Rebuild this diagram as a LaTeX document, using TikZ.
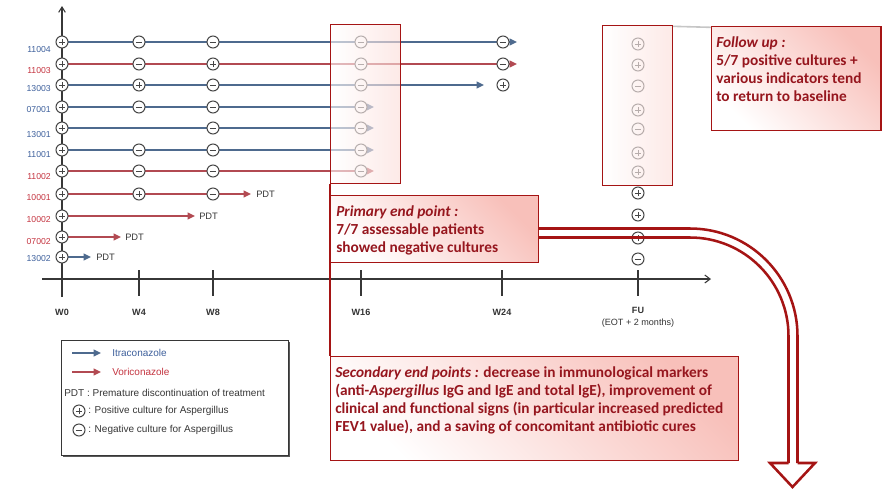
\documentclass[tikz,border=0pt]{standalone}
\usepackage{fontspec}
\setmainfont{Liberation Sans}
\newfontfamily\calfont{Carlito}
\usetikzlibrary{arrows.meta,shadows}
\definecolor{bline}{RGB}{78,106,142}
\definecolor{rline}{RGB}{178,74,82}
\definecolor{blab}{RGB}{62,96,156}
\definecolor{rlab}{RGB}{196,52,64}
\definecolor{dred}{RGB}{165,20,20}
\definecolor{tred}{RGB}{150,22,30}
\definecolor{bpink}{RGB}{248,192,186}
\definecolor{fpink}{RGB}{251,220,216}
\definecolor{mkgray}{RGB}{70,70,70}
\definecolor{axgray}{RGB}{55,55,55}
\pgfdeclarelayer{background}
\pgfsetlayers{background,main}
\tikzset{
  mk/.style={circle, draw=mkgray, fill=white, line width=0.75pt, minimum size=9pt, inner sep=0pt},
  plusmk/.style={mk, path picture={\draw[mkgray, line width=0.75pt] ([xshift=-2.4pt]path picture bounding box.center) -- ([xshift=2.4pt]path picture bounding box.center) ([yshift=-2.4pt]path picture bounding box.center) -- ([yshift=2.4pt]path picture bounding box.center);}},
  minusmk/.style={mk, path picture={\draw[mkgray, line width=0.75pt] ([xshift=-2.4pt]path picture bounding box.center) -- ([xshift=2.4pt]path picture bounding box.center);}},
  bl/.style={draw=bline, line width=1.6pt},
  rl/.style={draw=rline, line width=1.6pt},
  arrowend/.style={-{Triangle[length=5.5pt,width=5pt]}},
  axisline/.style={draw=axgray, line width=0.8pt},
  rowlab/.style={anchor=east, font=\fontsize{6.5}{7}\selectfont, inner sep=0pt},
  axlab/.style={font=\fontsize{6.8}{8}\selectfont\bfseries, text=black!80, inner sep=0pt},
  eotlab/.style={font=\fontsize{6.8}{8}\selectfont, text=black!80, inner sep=0pt},
  pdtlab/.style={anchor=west, font=\fontsize{7}{8}\selectfont, text=axgray, inner sep=0pt},
  legt/.style={anchor=west, font=\fontsize{7.5}{9}\selectfont, text=axgray, inner sep=0pt},
  fadebox/.style={draw=dred, line width=0.9pt, left color=white, right color=fpink, fill opacity=0.62, inner sep=0pt, anchor=north west},
  tbox/.style={draw=dred, line width=0.9pt, left color=white, right color=bpink, shading angle=135, inner sep=0pt, anchor=north west},
  boxtext/.style={font=\calfont\fontsize{11.5}{13.5}\selectfont\bfseries, text=tred, align=left, inner sep=0pt, anchor=north west},
  hollow/.style={draw=dred, line width=1.9pt},
}
\begin{document}
\begin{tikzpicture}[x=0.75pt,y=-0.75pt]
\useasboundingbox (0,0) rectangle (882,490);

% axes
\coordinate (vb) at (62,297);
\coordinate (vt) at (62,6);
\coordinate (hl) at (42,279);
\coordinate (hr) at (711,279);
\begin{pgfonlayer}{background}
\draw[axisline, -{Straight Barb[length=4pt,width=5pt]}] (vb) -- (vt);
\draw[axisline, -{Straight Barb[length=4pt,width=6pt]}] (hl) -- (hr);
\foreach \tx in {139,213,361,502,638} \draw[axisline] (\tx,270) -- (\tx,296);
\end{pgfonlayer}
\node[axlab] (w0) at (62,312) {W0};
\node[axlab] (w4) at (139,312) {W4};
\node[axlab] (w8) at (213,312) {W8};
\node[axlab] (w16) at (361,312) {W16};
\node[axlab] (w24) at (502,312) {W24};
\node[axlab] (fu) at (638,310) {FU};
\node[eotlab] (eot) at (638,323) {(EOT + 2 months)};

% row labels
\node[rowlab, text=blab] (l1) at (51,50) {11004};
\node[rowlab, text=rlab] (l2) at (51,71) {11003};
\node[rowlab, text=blab] (l3) at (51,89) {13003};
\node[rowlab, text=blab] (l4) at (51,110) {07001};
\node[rowlab, text=blab] (l5) at (51,135) {13001};
\node[rowlab, text=blab] (l6) at (51,155) {11001};
\node[rowlab, text=rlab] (l7) at (51,177) {11002};
\node[rowlab, text=rlab] (l8) at (51,198) {10001};
\node[rowlab, text=rlab] (l9) at (51,220) {10002};
\node[rowlab, text=rlab] (l10) at (51,242) {07002};
\node[rowlab, text=blab] (l11) at (51,259) {13002};

% row 1
\node[plusmk] (a1) at (62,42) {};
\node[minusmk] (b1) at (139,42) {};
\node[minusmk] (c1) at (213,42) {};
\node[minusmk] (d1) at (361,42) {};
\node[minusmk] (e1) at (503,42) {};
\coordinate (z1) at (517,42);
% row 2
\node[plusmk] (a2) at (62,64) {};
\node[minusmk] (b2) at (139,64) {};
\node[plusmk] (c2) at (213,64) {};
\node[minusmk] (d2) at (361,64) {};
\node[minusmk] (e2) at (503,64) {};
\coordinate (z2) at (517,64);
% row 3
\node[plusmk] (a3) at (62,85) {};
\node[plusmk] (b3) at (139,85) {};
\node[minusmk] (c3) at (213,85) {};
\node[minusmk] (d3) at (361,85) {};
\node[plusmk] (e3) at (503,85) {};
\coordinate (z3) at (484,85);
% row 4
\node[plusmk] (a4) at (62,107) {};
\node[minusmk] (b4) at (139,107) {};
\node[minusmk] (c4) at (213,107) {};
\node[minusmk] (d4) at (361,107) {};
\coordinate (z4) at (374,107);
% row 5
\node[plusmk] (a5) at (62,128) {};
\node[minusmk] (c5) at (213,128) {};
\node[minusmk] (d5) at (361,128) {};
\coordinate (z5) at (374,128);
% row 6
\node[plusmk] (a6) at (62,150) {};
\node[minusmk] (b6) at (139,150) {};
\node[minusmk] (c6) at (213,150) {};
\node[minusmk] (d6) at (361,150) {};
\coordinate (z6) at (374,150);
% row 7
\node[plusmk] (a7) at (62,171) {};
\node[minusmk] (b7) at (139,171) {};
\node[minusmk] (c7) at (213,171) {};
\node[minusmk] (d7) at (361,171) {};
\coordinate (z7) at (374,171);
% row 8
\node[plusmk] (a8) at (62,194) {};
\node[plusmk] (b8) at (139,194) {};
\node[minusmk] (c8) at (213,194) {};
\coordinate (z8) at (251,194);
\node[pdtlab] (p8) at (256,194) {PDT};
% row 9
\node[plusmk] (a9) at (62,216) {};
\coordinate (z9) at (195,216);
\node[pdtlab] (p9) at (199,216) {PDT};
% row 10
\node[plusmk] (a10) at (62,237) {};
\coordinate (z10) at (121,237);
\node[pdtlab] (p10) at (125,237) {PDT};
% row 11
\node[plusmk] (a11) at (62,257) {};
\coordinate (z11) at (91,257);
\node[pdtlab] (p11) at (96,257) {PDT};

\begin{pgfonlayer}{background}
\draw[bl, arrowend] (a1.center) -- (z1);
\draw[rl, arrowend] (a2.center) -- (z2);
\draw[bl, arrowend] (a3.center) -- (z3);
\draw[bl, arrowend] (a4.center) -- (z4);
\draw[bl, arrowend] (a5.center) -- (z5);
\draw[bl, arrowend] (a6.center) -- (z6);
\draw[rl, arrowend] (a7.center) -- (z7);
\draw[rl, arrowend] (a8.center) -- (z8);
\draw[rl, arrowend] (a9.center) -- (z9);
\draw[rl, arrowend] (a10.center) -- (z10);
\draw[bl, arrowend] (a11.center) -- (z11);
\end{pgfonlayer}

% follow-up column
\node[plusmk] (f1) at (638,44) {};
\node[plusmk] (f2) at (638,65) {};
\node[minusmk] (f3) at (638,86) {};
\node[plusmk] (f4) at (638,110) {};
\node[minusmk] (f5) at (638,129) {};
\node[plusmk] (f6) at (638,153) {};
\node[plusmk] (f7) at (638,172) {};
\node[plusmk] (f8) at (638,193) {};
\node[plusmk] (f9) at (638,215) {};
\node[plusmk] (f10) at (638,238) {};
\node[minusmk] (f11) at (638,259) {};

% faded boxes
\node[fadebox, minimum width=52.5pt, minimum height=119.25pt] (w16box) at (330,24) {};
\node[fadebox, minimum width=52.5pt, minimum height=120pt] (fubox) at (602,25) {};

% text boxes
\node[tbox, minimum width=127pt, minimum height=78pt] (fupbox) at (711,26) {};
\draw[gray!45, line width=1.2pt] ([yshift=-1pt]fubox.north east) -- ([yshift=-1pt]fupbox.north west);
\node[boxtext] (fuptext) at (716,36) {\textit{Follow up :}\\5/7 positive cultures +\\various indicators tend\\to return to baseline};

\node[tbox, minimum width=306pt, minimum height=78pt] (secbox) at (330,356) {};
\draw[dred, line width=0.9pt] (w16box.south west) -- (secbox.north west);
\node[tbox, minimum width=156pt, minimum height=50.25pt] (primbox) at (330,195) {};
\node[boxtext] (primtext) at (336,205) {\textit{Primary end point :}\\7/7 assessable patients\\showed negative cultures};
\node[boxtext] (sectext) at (335,366) {\textit{Secondary end points :} decrease in immunological markers\\(anti-\textit{Aspergillus} IgG and IgE and total IgE), improvement of\\clinical and functional signs (in particular increased predicted\\FEV1 value), and a saving of concomitant antibiotic cures};

% legend
\node[draw=axgray, line width=0.9pt, fill=white, minimum width=170pt, minimum height=86.25pt, anchor=north west, inner sep=0pt,
      drop shadow={shadow xshift=1.3pt, shadow yshift=-1.3pt, fill=black!65, opacity=1}] (legend) at (61,340) {};
\coordinate (lb1) at (72,353);
\coordinate (lb2) at (101,353);
\coordinate (lr1) at (72,372);
\coordinate (lr2) at (101,372);
\draw[bl, arrowend] (lb1) -- (lb2);
\draw[rl, arrowend] (lr1) -- (lr2);
\node[legt, text=blab] (litra) at (112,353) {Itraconazole};
\node[legt, text=rlab] (lvori) at (112,372) {Voriconazole};
\node[legt] (lpdt) at (64,393) {PDT : Premature discontinuation of treatment};
\node[plusmk] (lplus) at (79,411) {};
\node[legt] (lpt) at (88,411) {: Positive culture for Aspergillus};
\node[minusmk] (lminus) at (79,430) {};
\node[legt] (lmt) at (88,430) {: Negative culture for Aspergillus};

% hollow arrow
\coordinate (hso) at (538,228.5);
\coordinate (hsi) at (538,237.5);
\coordinate (hco) at (797.5,228.5);
\coordinate (hci) at (788.5,237.5);
\coordinate (heo) at (797.5,463);
\coordinate (hei) at (788.5,463);
\draw[hollow, rounded corners=80.6pt] (hso) -- (hco) -- (heo);
\draw[hollow, rounded corners=73.9pt] (hsi) -- (hci) -- (hei);
\coordinate (tl) at (770,463);
\coordinate (tr) at (815,463);
\coordinate (tt) at (792.5,487);
\draw[hollow, line join=miter] (hei) -- (tl) -- (tt) -- (tr) -- (heo);
\end{tikzpicture}
\end{document}
